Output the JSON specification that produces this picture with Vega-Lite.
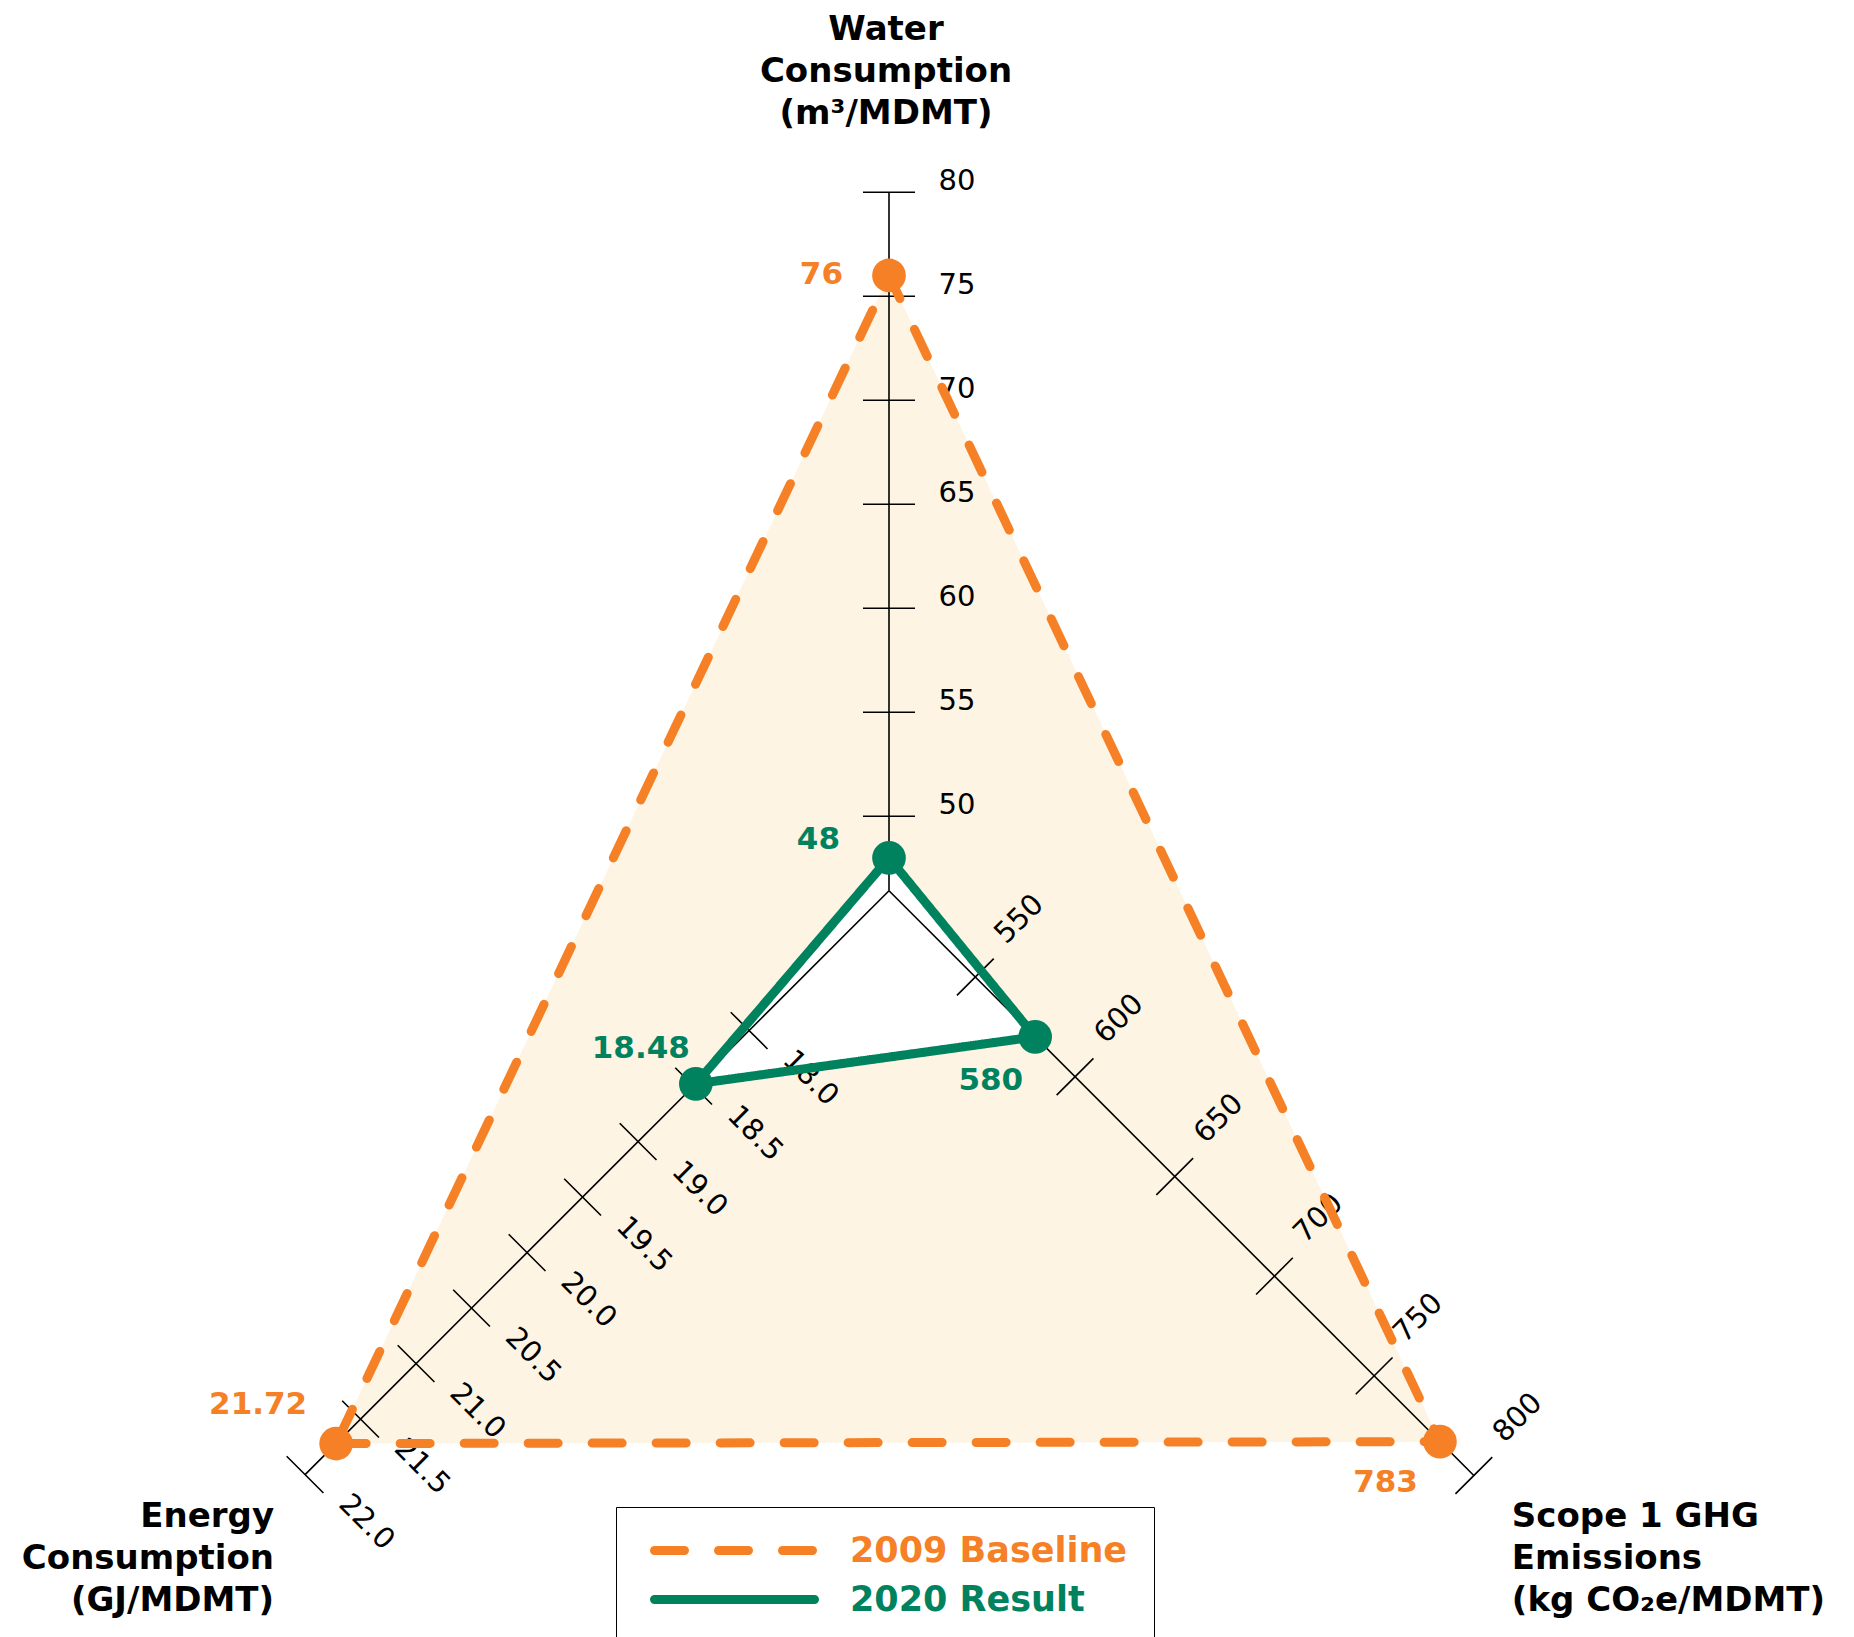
{
  "$schema": "https://vega.github.io/schema/vega-lite/v6.json",
  "width": 1854,
  "height": 1637,
  "autosize": {"type": "none"},
  "padding": 0,
  "background": "white",
  "config": {"view": {"stroke": null}, "font": "DejaVu Sans"},
  "data": {
    "values": [
      {"kind": "point", "series": "2009 Baseline", "axis": "Water", "value": 76},
      {"kind": "point", "series": "2009 Baseline", "axis": "Energy", "value": 21.72},
      {"kind": "point", "series": "2009 Baseline", "axis": "Scope", "value": 783},
      {"kind": "point", "series": "2020 Result", "axis": "Water", "value": 48},
      {"kind": "point", "series": "2020 Result", "axis": "Energy", "value": 18.48},
      {"kind": "point", "series": "2020 Result", "axis": "Scope", "value": 580},
      {"kind": "tick", "axis": "Water", "value": 50},
      {"kind": "tick", "axis": "Water", "value": 55},
      {"kind": "tick", "axis": "Water", "value": 60},
      {"kind": "tick", "axis": "Water", "value": 65},
      {"kind": "tick", "axis": "Water", "value": 70},
      {"kind": "tick", "axis": "Water", "value": 75},
      {"kind": "tick", "axis": "Water", "value": 80},
      {"kind": "tick", "axis": "Energy", "value": 18.0},
      {"kind": "tick", "axis": "Energy", "value": 18.5},
      {"kind": "tick", "axis": "Energy", "value": 19.0},
      {"kind": "tick", "axis": "Energy", "value": 19.5},
      {"kind": "tick", "axis": "Energy", "value": 20.0},
      {"kind": "tick", "axis": "Energy", "value": 20.5},
      {"kind": "tick", "axis": "Energy", "value": 21.0},
      {"kind": "tick", "axis": "Energy", "value": 21.5},
      {"kind": "tick", "axis": "Energy", "value": 22.0},
      {"kind": "tick", "axis": "Scope", "value": 550},
      {"kind": "tick", "axis": "Scope", "value": 600},
      {"kind": "tick", "axis": "Scope", "value": 650},
      {"kind": "tick", "axis": "Scope", "value": 700},
      {"kind": "tick", "axis": "Scope", "value": 750},
      {"kind": "tick", "axis": "Scope", "value": 800},
      {"kind": "axis", "axis": "Water", "value": 80, "title": "Water\nConsumption\n(m³/MDMT)"},
      {"kind": "axis", "axis": "Energy", "value": 22.0, "title": "Energy\nConsumption\n(GJ/MDMT)"},
      {"kind": "axis", "axis": "Scope", "value": 800, "title": "Scope 1 GHG\nEmissions\n(kg CO₂e/MDMT)"}
    ]
  },
  "transform": [
    {"calculate": "datum.axis == 'Water' ? PI/2 : datum.axis == 'Energy' ? 5*PI/4 : 7*PI/4", "as": "th"},
    {"calculate": "datum.axis == 'Water' ? (datum.value - 46.42) * 20.8 : datum.axis == 'Energy' ? (datum.value - 16.74) * 157 : (datum.value - 506.7) * 2.82", "as": "r"},
    {"calculate": "datum.r * cos(datum.th)", "as": "x"},
    {"calculate": "datum.r * sin(datum.th)", "as": "y"},
    {"calculate": "0", "as": "c0"},
    {"calculate": "-sin(datum.th)", "as": "px"},
    {"calculate": "cos(datum.th)", "as": "py"},
    {"calculate": "datum.x - 26 * datum.px", "as": "tx1"},
    {"calculate": "datum.y - 26 * datum.py", "as": "ty1"},
    {"calculate": "datum.x + 26 * datum.px", "as": "tx2"},
    {"calculate": "datum.y + 26 * datum.py", "as": "ty2"},
    {"calculate": "datum.axis == 'Water' ? -68 : datum.axis == 'Energy' ? 77 : 72", "as": "lp"},
    {"calculate": "datum.axis == 'Water' ? 11 : -10", "as": "lu"},
    {"calculate": "datum.x + datum.lp * datum.px + datum.lu * cos(datum.th)", "as": "lbx"},
    {"calculate": "datum.y + datum.lp * datum.py + datum.lu * sin(datum.th)", "as": "lby"},
    {"calculate": "datum.axis == 'Water' ? 0 : datum.axis == 'Energy' ? 45 : -45", "as": "la"},
    {"calculate": "datum.axis == 'Energy' ? format(datum.value, '.1f') : format(datum.value, 'd')", "as": "lbl"},
    {"calculate": "'' + datum.value", "as": "vtxt"},
    {"calculate": "datum.series + '|' + datum.axis", "as": "key"},
    {"calculate": "datum.key == '2009 Baseline|Water' ? -46 : datum.key == '2020 Result|Water' ? -49 : datum.key == '2020 Result|Energy' ? -6 : datum.key == '2020 Result|Scope' ? -12 : datum.key == '2009 Baseline|Energy' ? -29 : -22", "as": "vdx"},
    {"calculate": "datum.key == '2009 Baseline|Water' ? 0 : datum.key == '2020 Result|Water' ? 18 : datum.key == '2020 Result|Energy' ? 35 : datum.key == '2020 Result|Scope' ? -44 : datum.key == '2009 Baseline|Energy' ? 39 : -41", "as": "vdy"},
    {"calculate": "datum.x + datum.vdx", "as": "vx"},
    {"calculate": "datum.y + datum.vdy", "as": "vy"}
  ],
  "layer": [
    {
      "transform": [{"filter": "datum.kind == 'point' && datum.series == '2009 Baseline'"}],
      "mark": {"type": "line", "interpolate": "linear-closed", "fill": "#FDF4E3", "strokeWidth": 0},
      "encoding": {
        "x": {"field": "x", "type": "quantitative", "scale": {"domain": [-889, 965], "nice": false, "zero": false}, "axis": null},
        "y": {"field": "y", "type": "quantitative", "scale": {"domain": [-746.3, 890.7], "nice": false, "zero": false}, "axis": null},
        "order": {"field": "axis", "type": "ordinal"}
      }
    },
    {
      "transform": [{"filter": "datum.kind == 'point' && datum.series == '2020 Result'"}],
      "mark": {"type": "line", "interpolate": "linear-closed", "fill": "white", "strokeWidth": 0},
      "encoding": {
        "x": {"field": "x", "type": "quantitative", "scale": {"domain": [-889, 965], "nice": false, "zero": false}, "axis": null},
        "y": {"field": "y", "type": "quantitative", "scale": {"domain": [-746.3, 890.7], "nice": false, "zero": false}, "axis": null},
        "order": {"field": "axis", "type": "ordinal"}
      }
    },
    {
      "transform": [{"filter": "datum.kind == 'axis'"}],
      "mark": {"type": "rule", "color": "black", "strokeWidth": 1.6},
      "encoding": {
        "x": {"field": "c0", "type": "quantitative", "scale": {"domain": [-889, 965], "nice": false, "zero": false}, "axis": null},
        "y": {"field": "c0", "type": "quantitative", "scale": {"domain": [-746.3, 890.7], "nice": false, "zero": false}, "axis": null},
        "x2": {"field": "x"},
        "y2": {"field": "y"}
      }
    },
    {
      "transform": [{"filter": "datum.kind == 'tick'"}],
      "mark": {"type": "rule", "color": "black", "strokeWidth": 1.6},
      "encoding": {
        "x": {"field": "tx1", "type": "quantitative", "scale": {"domain": [-889, 965], "nice": false, "zero": false}, "axis": null},
        "y": {"field": "ty1", "type": "quantitative", "scale": {"domain": [-746.3, 890.7], "nice": false, "zero": false}, "axis": null},
        "x2": {"field": "tx2"},
        "y2": {"field": "ty2"}
      }
    },
    {
      "transform": [{"filter": "datum.kind == 'tick'"}],
      "mark": {"type": "text", "fontSize": 29, "font": "DejaVu Sans", "color": "black", "align": "center", "baseline": "middle"},
      "encoding": {
        "x": {"field": "lbx", "type": "quantitative", "scale": {"domain": [-889, 965], "nice": false, "zero": false}, "axis": null},
        "y": {"field": "lby", "type": "quantitative", "scale": {"domain": [-746.3, 890.7], "nice": false, "zero": false}, "axis": null},
        "angle": {"field": "la", "type": "quantitative", "scale": null},
        "text": {"field": "lbl", "type": "nominal"}
      }
    },
    {
      "transform": [{"filter": "datum.kind == 'point'"}],
      "mark": {"type": "line", "interpolate": "linear-closed", "strokeWidth": 9, "strokeCap": "round", "strokeJoin": "round"},
      "encoding": {
        "x": {"field": "x", "type": "quantitative", "scale": {"domain": [-889, 965], "nice": false, "zero": false}, "axis": null},
        "y": {"field": "y", "type": "quantitative", "scale": {"domain": [-746.3, 890.7], "nice": false, "zero": false}, "axis": null},
        "order": {"field": "axis", "type": "ordinal"},
        "color": {
          "field": "series", "type": "nominal",
          "scale": {"domain": ["2009 Baseline", "2020 Result"], "range": ["#F58025", "#00825F"]},
          "legend": {
            "orient": "none", "legendX": 616, "legendY": 1507, "title": null,
            "symbolType": "M-8,0L8,0", "symbolSize": 400, "symbolStrokeWidth": 9,
            "symbolOffset": 75, "labelOffset": 98, "labelLimit": 600,
            "labelFontSize": 35, "labelFont": "DejaVu Sans", "labelFontWeight": "bold",
            "padding": 26, "rowPadding": 12, "strokeColor": "black",
            "encode": {
              "labels": {"update": {"fill": {"signal": "datum.value === '2009 Baseline' ? '#F58025' : '#00825F'"}}},
              "symbols": {"update": {"strokeCap": {"value": "round"}}}
            }
          }
        },
        "strokeDash": {
          "field": "series", "type": "nominal",
          "scale": {"domain": ["2009 Baseline", "2020 Result"], "range": [[30, 34], [1, 0]]},
          "legend": {
            "orient": "none", "legendX": 616, "legendY": 1507, "title": null,
            "symbolType": "M-8,0L8,0", "symbolSize": 400, "symbolStrokeWidth": 9,
            "symbolOffset": 75, "labelOffset": 98, "labelLimit": 600,
            "labelFontSize": 35, "labelFont": "DejaVu Sans", "labelFontWeight": "bold",
            "padding": 26, "rowPadding": 12, "strokeColor": "black"
          }
        }
      }
    },
    {
      "transform": [{"filter": "datum.kind == 'point'"}],
      "mark": {"type": "circle", "size": 1134, "opacity": 1},
      "encoding": {
        "x": {"field": "x", "type": "quantitative", "scale": {"domain": [-889, 965], "nice": false, "zero": false}, "axis": null},
        "y": {"field": "y", "type": "quantitative", "scale": {"domain": [-746.3, 890.7], "nice": false, "zero": false}, "axis": null},
        "fill": {"field": "series", "type": "nominal", "scale": {"domain": ["2009 Baseline", "2020 Result"], "range": ["#F58025", "#00825F"]}, "legend": null}
      }
    },
    {
      "transform": [{"filter": "datum.kind == 'point'"}],
      "mark": {"type": "text", "fontSize": 31, "font": "DejaVu Sans", "fontWeight": "bold", "align": "right", "baseline": "middle"},
      "encoding": {
        "x": {"field": "vx", "type": "quantitative", "scale": {"domain": [-889, 965], "nice": false, "zero": false}, "axis": null},
        "y": {"field": "vy", "type": "quantitative", "scale": {"domain": [-746.3, 890.7], "nice": false, "zero": false}, "axis": null},
        "text": {"field": "vtxt", "type": "nominal"},
        "fill": {"field": "series", "type": "nominal", "scale": {"domain": ["2009 Baseline", "2020 Result"], "range": ["#F58025", "#00825F"]}, "legend": null}
      }
    },
    {
      "transform": [{"filter": "datum.kind == 'axis' && datum.axis == 'Water'"}],
      "mark": {"type": "text", "fontSize": 34, "font": "DejaVu Sans", "fontWeight": "bold", "color": "black", "align": "center", "baseline": "top", "lineBreak": "\n", "lineHeight": 42, "dx": -3, "dy": -179.5},
      "encoding": {
        "x": {"field": "x", "type": "quantitative", "scale": {"domain": [-889, 965], "nice": false, "zero": false}, "axis": null},
        "y": {"field": "y", "type": "quantitative", "scale": {"domain": [-746.3, 890.7], "nice": false, "zero": false}, "axis": null},
        "text": {"field": "title", "type": "nominal"}
      }
    },
    {
      "transform": [{"filter": "datum.kind == 'axis' && datum.axis == 'Energy'"}],
      "mark": {"type": "text", "fontSize": 34, "font": "DejaVu Sans", "fontWeight": "bold", "color": "black", "align": "right", "baseline": "top", "lineBreak": "\n", "lineHeight": 42, "dx": -31, "dy": 25},
      "encoding": {
        "x": {"field": "x", "type": "quantitative", "scale": {"domain": [-889, 965], "nice": false, "zero": false}, "axis": null},
        "y": {"field": "y", "type": "quantitative", "scale": {"domain": [-746.3, 890.7], "nice": false, "zero": false}, "axis": null},
        "text": {"field": "title", "type": "nominal"}
      }
    },
    {
      "transform": [{"filter": "datum.kind == 'axis' && datum.axis == 'Scope'"}],
      "mark": {"type": "text", "fontSize": 34, "font": "DejaVu Sans", "fontWeight": "bold", "color": "black", "align": "left", "baseline": "top", "lineBreak": "\n", "lineHeight": 42, "dx": 38, "dy": 24},
      "encoding": {
        "x": {"field": "x", "type": "quantitative", "scale": {"domain": [-889, 965], "nice": false, "zero": false}, "axis": null},
        "y": {"field": "y", "type": "quantitative", "scale": {"domain": [-746.3, 890.7], "nice": false, "zero": false}, "axis": null},
        "text": {"field": "title", "type": "nominal"}
      }
    }
  ]
}
